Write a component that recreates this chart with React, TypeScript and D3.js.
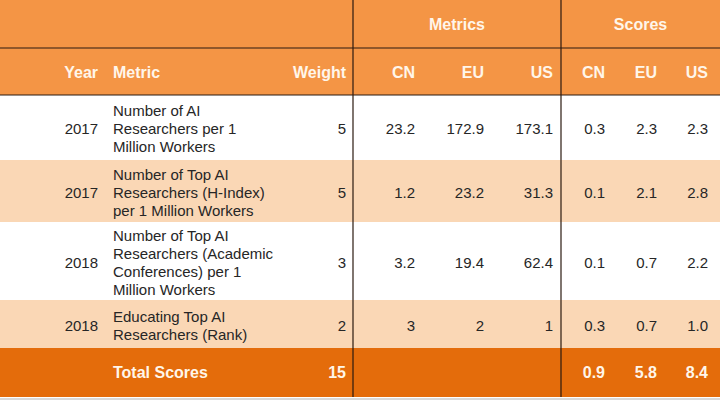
import * as d3 from "d3";
import React, { useEffect, useRef } from "react";

// Table data
const years = ["2017", "2017", "2018", "2018"];
const metrics = [
  ["Number of AI", "Researchers per 1", "Million Workers"],
  ["Number of Top AI", "Researchers (H-Index)", "per 1 Million Workers"],
  ["Number of Top AI", "Researchers (Academic", "Conferences) per 1", "Million Workers"],
  ["Educating Top AI", "Researchers (Rank)"],
];
const weights = [5, 5, 3, 2];
const metricCN = ["23.2", "1.2", "3.2", "3"];
const metricEU = ["172.9", "23.2", "19.4", "2"];
const metricUS = ["173.1", "31.3", "62.4", "1"];
const scoreCN = ["0.3", "0.1", "0.1", "0.3"];
const scoreEU = ["2.3", "2.1", "0.7", "0.7"];
const scoreUS = ["2.3", "2.8", "2.2", "1.0"];
const totalLabel = "Total Scores";
const totalWeight = "15";
const totalScores = ["0.9", "5.8", "8.4"];
const groupHeaders = ["Metrics", "Scores"];
const countries = ["CN", "EU", "US"];

export default function App() {
  const svgRef = useRef<SVGSVGElement>(null);

  useEffect(() => {
    const svg = d3.select(svgRef.current);
    svg.selectAll("*").remove();

    const width = 720;
    const font = "'Liberation Sans', Arial, sans-serif";
    const headerFill = "#f49545";
    const bandFill = "#fad7b5";
    const totalFill = "#e46c0b";
    const headText = "#fff6ea";
    const bodyText = "#262626";

    // Row geometry
    const headTop = 0, headMid = 48, headBottom = 95;
    const rowHeights = [65, 62, 78, 48];
    const rowTops = rowHeights.map((_, i) => headBottom + d3.sum(rowHeights.slice(0, i)));
    const totalTop = headBottom + d3.sum(rowHeights);
    const totalH = 49;

    // Column anchors
    const xYear = 98, xMetric = 113, xWeight = 346;
    const div1 = 353, div2 = 561;
    const xMetricCols = [415, 484, 553];
    const xScoreCols = [605, 657, 708];

    // Header background
    svg.append("rect").attr("x", 0).attr("y", headTop).attr("width", width)
      .attr("height", headBottom - headTop).attr("fill", headerFill);

    // Body rows
    rowTops.forEach((y, i) => {
      svg.append("rect").attr("x", 0).attr("y", y).attr("width", width)
        .attr("height", rowHeights[i]).attr("fill", i % 2 === 1 ? bandFill : "#ffffff");
    });

    // Total row
    svg.append("rect").attr("x", 0).attr("y", totalTop + 1).attr("width", width)
      .attr("height", 2).attr("fill", "#d9d9d9").attr("transform", `translate(0,${totalH})`);
    svg.append("rect").attr("x", 0).attr("y", totalTop).attr("width", width)
      .attr("height", totalH).attr("fill", totalFill);

    // Lines
    [headMid, headBottom].forEach(y => {
      svg.append("line").attr("x1", 0).attr("x2", width).attr("y1", y).attr("y2", y)
        .attr("stroke", "#2a1a10").attr("stroke-width", 1.2);
    });
    [div1, div2].forEach(x => {
      svg.append("line").attr("x1", x).attr("x2", x).attr("y1", 0).attr("y2", totalTop + totalH)
        .attr("stroke", "#2a1a10").attr("stroke-width", 1.2);
    });

    const text = (x: number, y: number, s: string, anchor: string, bold: boolean, color: string) =>
      svg.append("text").attr("x", x).attr("y", y).attr("text-anchor", anchor)
        .attr("dominant-baseline", "central")
        .style("font-family", font).style("font-size", bold ? "16px" : "15px")
        .style("font-weight", bold ? "bold" : "normal").attr("fill", color).text(s);

    // Group headers
    text((div1 + div2) / 2, 24, groupHeaders[0], "middle", true, headText);
    text((div2 + width) / 2, 24, groupHeaders[1], "middle", true, headText);

    // Column headers
    const hy = 72;
    text(xYear, hy, "Year", "end", true, headText);
    text(xMetric, hy, "Metric", "start", true, headText);
    text(xWeight, hy, "Weight", "end", true, headText);
    countries.forEach((c, j) => {
      text(xMetricCols[j], hy, c, "end", true, headText);
      text(xScoreCols[j], hy, c, "end", true, headText);
    });

    // Body cells
    const lineH = 18;
    years.forEach((yr, i) => {
      const cy = rowTops[i] + rowHeights[i] / 2 + 1;
      text(xYear, cy, yr, "end", false, bodyText);
      const lines = metrics[i];
      lines.forEach((l, k) => {
        text(xMetric, cy + (k - (lines.length - 1) / 2) * lineH, l, "start", false, bodyText);
      });
      text(xWeight, cy, String(weights[i]), "end", false, bodyText);
      [metricCN, metricEU, metricUS].forEach((col, j) => text(xMetricCols[j], cy, col[i], "end", false, bodyText));
      [scoreCN, scoreEU, scoreUS].forEach((col, j) => text(xScoreCols[j], cy, col[i], "end", false, bodyText));
    });

    // Totals
    const ty = totalTop + totalH / 2;
    text(xMetric, ty, totalLabel, "start", true, headText);
    text(xWeight, ty, totalWeight, "end", true, headText);
    totalScores.forEach((s, j) => text(xScoreCols[j], ty, s, "end", true, headText));
  }, []);

  return (
    <svg ref={svgRef} width={720} height={404}
      style={{ position: "absolute", left: 0, top: 0, display: "block", background: "#fff" }} />
  );
}
